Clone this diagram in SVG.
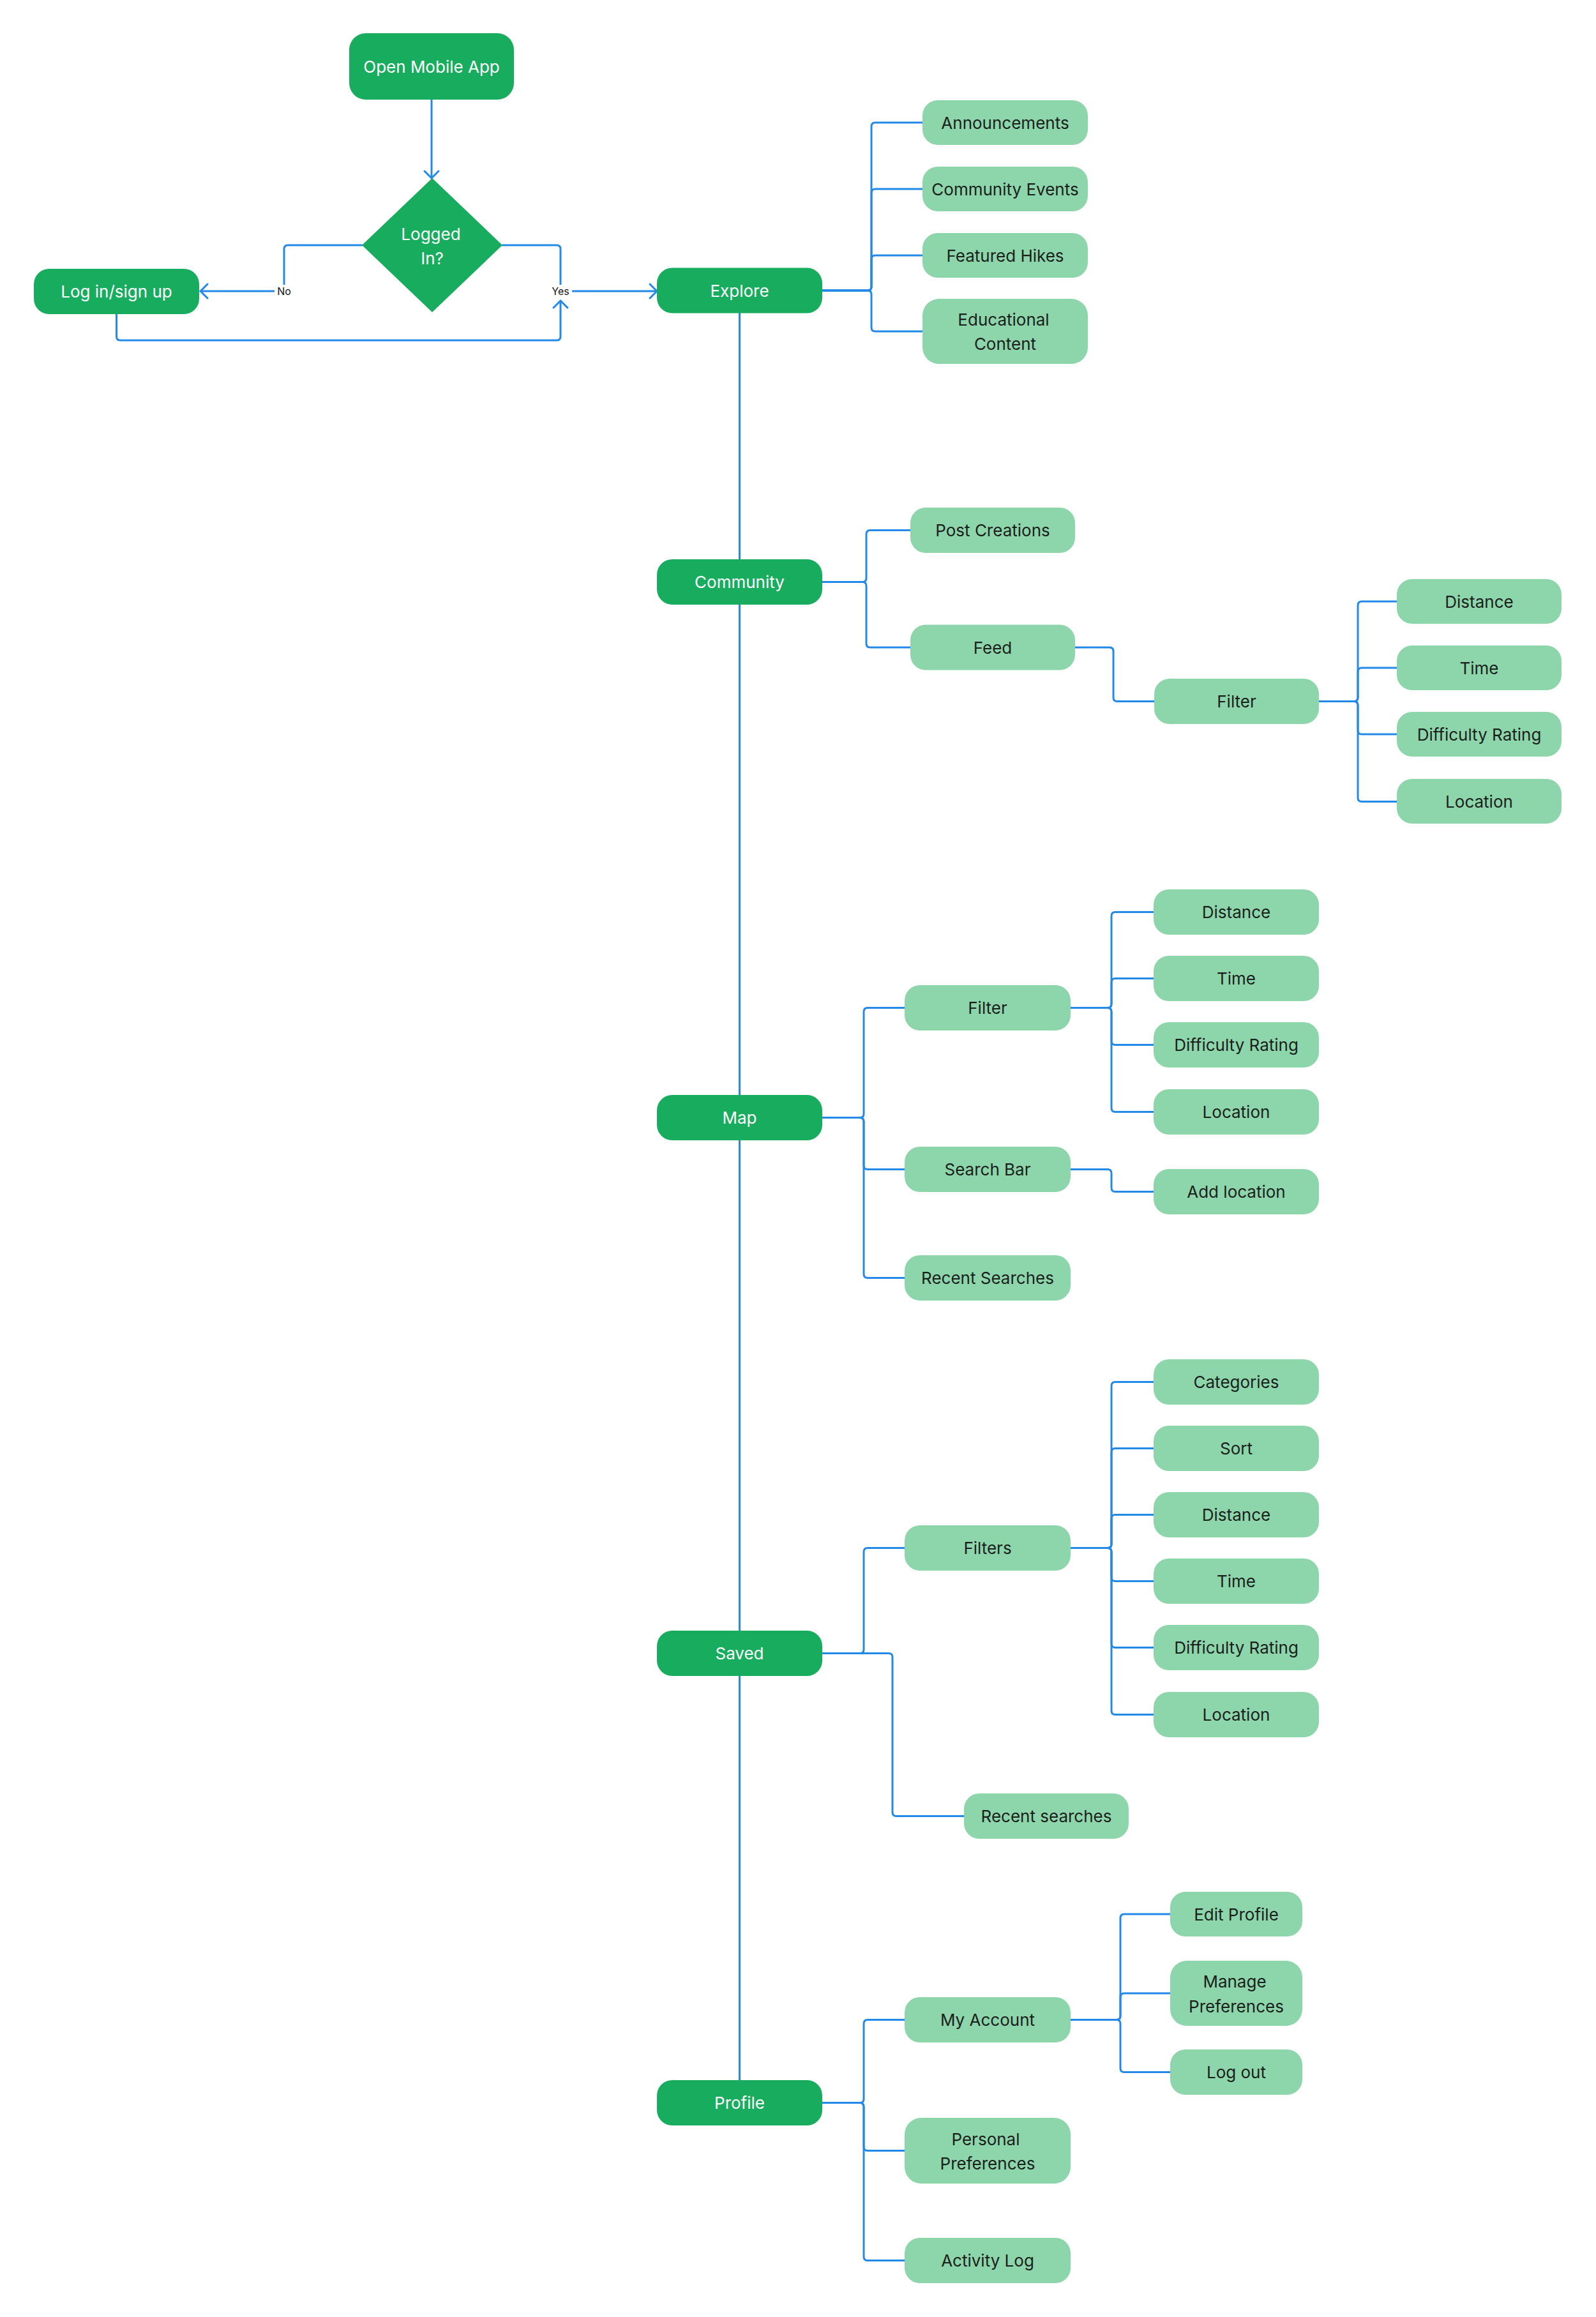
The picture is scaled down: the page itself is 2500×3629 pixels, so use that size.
<svg xmlns="http://www.w3.org/2000/svg" width="2500" height="3629" viewBox="0 0 2500 3629">
<defs>
<style>
.dk{fill:#18AD5E}
.lt{fill:#8DD5AB}
.tw{fill:#FFFFFF;font-family:Inter,"Noto Sans",sans-serif;font-size:26px;font-weight:400;text-anchor:middle;dominant-baseline:central}
.tb{fill:#1B1F1C;font-family:Inter,"Noto Sans",sans-serif;font-size:26px;font-weight:400;text-anchor:middle;dominant-baseline:central}
.lbl{fill:#111111;font-family:Inter,"Noto Sans",sans-serif;font-size:16px;text-anchor:middle;dominant-baseline:central}
.c{fill:none;stroke:#2389E8;stroke-width:3;stroke-linecap:round;stroke-linejoin:round}
</style>
<marker id="arr" markerUnits="userSpaceOnUse" markerWidth="30" markerHeight="30" viewBox="-15 -15 30 30" refX="0" refY="0" orient="auto">
<path d="M -11 -11 L 0 0 L -11 11" fill="none" stroke="#2389E8" stroke-width="3" stroke-linecap="round" stroke-linejoin="round"/>
</marker>
</defs>
<rect width="2500" height="3629" fill="#FFFFFF"/>

<g id="connectors">
<path class="c" d="M 1158.5 490 V 3258"/>
<path class="c" d="M 676 156 V 279" marker-end="url(#arr)"/>
<path class="c" d="M 567 384 H 451 Q 445 384 445 390 V 450 Q 445 456 439 456 H 314" marker-end="url(#arr)"/>
<path class="c" d="M 787 384 H 872 Q 878 384 878 390 V 456 H 1029" marker-end="url(#arr)"/>
<path class="c" d="M 182.5 492 V 527 Q 182.5 533 188.5 533 H 872 Q 878 533 878 527 V 471" marker-end="url(#arr)"/>

<!-- Explore -->
<path class="c" d="M 1288 455 H 1359 Q 1365 455 1365 449 V 198 Q 1365 192 1371 192 H 1445"/>
<path class="c" d="M 1288 455 H 1359 Q 1365 455 1365 449 V 302 Q 1365 296 1371 296 H 1445"/>
<path class="c" d="M 1288 455 H 1359 Q 1365 455 1365 449 V 406 Q 1365 400 1371 400 H 1445"/>
<path class="c" d="M 1288 455 H 1359 Q 1365 455 1365 461 V 513 Q 1365 519 1371 519 H 1445"/>

<!-- Community -->
<path class="c" d="M 1288 911.5 H 1351 Q 1357 911.5 1357 905.5 V 836.5 Q 1357 830.5 1363 830.5 H 1426"/>
<path class="c" d="M 1288 911.5 H 1351 Q 1357 911.5 1357 917.5 V 1008 Q 1357 1014 1363 1014 H 1426"/>
<path class="c" d="M 1684 1014 H 1738 Q 1744 1014 1744 1020 V 1092.5 Q 1744 1098.5 1750 1098.5 H 1808"/>
<path class="c" d="M 2066 1098.5 H 2121 Q 2127 1098.5 2127 1092.5 V 948 Q 2127 942 2133 942 H 2188"/>
<path class="c" d="M 2066 1098.5 H 2121 Q 2127 1098.5 2127 1092.5 V 1052 Q 2127 1046 2133 1046 H 2188"/>
<path class="c" d="M 2066 1098.5 H 2121 Q 2127 1098.5 2127 1104.5 V 1144 Q 2127 1150 2133 1150 H 2188"/>
<path class="c" d="M 2066 1098.5 H 2121 Q 2127 1098.5 2127 1104.5 V 1249.5 Q 2127 1255.5 2133 1255.5 H 2188"/>

<!-- Map -->
<path class="c" d="M 1288 1750.5 H 1347 Q 1353 1750.5 1353 1744.5 V 1584.5 Q 1353 1578.5 1359 1578.5 H 1417"/>
<path class="c" d="M 1288 1750.5 H 1347 Q 1353 1750.5 1353 1756.5 V 1825.5 Q 1353 1831.5 1359 1831.5 H 1417"/>
<path class="c" d="M 1288 1750.5 H 1347 Q 1353 1750.5 1353 1756.5 V 1995.5 Q 1353 2001.5 1359 2001.5 H 1417"/>
<path class="c" d="M 1677 1578.5 H 1735 Q 1741 1578.5 1741 1572.5 V 1434.5 Q 1741 1428.5 1747 1428.5 H 1807"/>
<path class="c" d="M 1677 1578.5 H 1735 Q 1741 1578.5 1741 1572.5 V 1538.5 Q 1741 1532.5 1747 1532.5 H 1807"/>
<path class="c" d="M 1677 1578.5 H 1735 Q 1741 1578.5 1741 1584.5 V 1630.5 Q 1741 1636.5 1747 1636.5 H 1807"/>
<path class="c" d="M 1677 1578.5 H 1735 Q 1741 1578.5 1741 1584.5 V 1735.5 Q 1741 1741.5 1747 1741.5 H 1807"/>
<path class="c" d="M 1677 1831.5 H 1735 Q 1741 1831.5 1741 1837.5 V 1860.5 Q 1741 1866.5 1747 1866.5 H 1807"/>

<!-- Saved -->
<path class="c" d="M 1288 2589.5 H 1347 Q 1353 2589.5 1353 2583.5 V 2430.5 Q 1353 2424.5 1359 2424.5 H 1417"/>
<path class="c" d="M 1288 2589.5 H 1392 Q 1398 2589.5 1398 2595.5 V 2838.5 Q 1398 2844.5 1404 2844.5 H 1510"/>
<path class="c" d="M 1677 2424.5 H 1735 Q 1741 2424.5 1741 2418.5 V 2170.5 Q 1741 2164.5 1747 2164.5 H 1807"/>
<path class="c" d="M 1677 2424.5 H 1735 Q 1741 2424.5 1741 2418.5 V 2274.5 Q 1741 2268.5 1747 2268.5 H 1807"/>
<path class="c" d="M 1677 2424.5 H 1735 Q 1741 2424.5 1741 2418.5 V 2378.5 Q 1741 2372.5 1747 2372.5 H 1807"/>
<path class="c" d="M 1677 2424.5 H 1735 Q 1741 2424.5 1741 2430.5 V 2470.5 Q 1741 2476.5 1747 2476.5 H 1807"/>
<path class="c" d="M 1677 2424.5 H 1735 Q 1741 2424.5 1741 2430.5 V 2574.5 Q 1741 2580.5 1747 2580.5 H 1807"/>
<path class="c" d="M 1677 2424.5 H 1735 Q 1741 2424.5 1741 2430.5 V 2679.5 Q 1741 2685.5 1747 2685.5 H 1807"/>

<!-- Profile -->
<path class="c" d="M 1288 3293.5 H 1347 Q 1353 3293.5 1353 3287.5 V 3169.5 Q 1353 3163.5 1359 3163.5 H 1417"/>
<path class="c" d="M 1288 3293.5 H 1347 Q 1353 3293.5 1353 3299.5 V 3362.5 Q 1353 3368.5 1359 3368.5 H 1417"/>
<path class="c" d="M 1288 3293.5 H 1347 Q 1353 3293.5 1353 3299.5 V 3534.5 Q 1353 3540.5 1359 3540.5 H 1417"/>
<path class="c" d="M 1677 3163.5 H 1749 Q 1755 3163.5 1755 3157.5 V 3004 Q 1755 2998 1761 2998 H 1833"/>
<path class="c" d="M 1677 3163.5 H 1749 Q 1755 3163.5 1755 3157.5 V 3128 Q 1755 3122 1761 3122 H 1833"/>
<path class="c" d="M 1677 3163.5 H 1749 Q 1755 3163.5 1755 3169.5 V 3239.5 Q 1755 3245.5 1761 3245.5 H 1833"/>

<rect x="430" y="446" width="30" height="20" fill="#FFFFFF"/>
<text class="lbl" x="445" y="456">No</text>
<rect x="860" y="446" width="36" height="20" fill="#FFFFFF"/>
<text class="lbl" x="878" y="456">Yes</text>
</g>

<g id="n-open"><rect class="dk" x="547" y="52" width="258" height="104" rx="26"/><text class="tw" x="676" y="104">Open Mobile App</text></g>
<g id="n-logged"><polygon class="dk" points="677,279 787,384 677,489 567,384"/><text class="tw" x="675" y="366">Logged</text><text class="tw" x="677" y="404">In?</text></g>
<g id="n-login"><rect class="dk" x="53" y="421" width="259" height="71" rx="24"/><text class="tw" x="182.5" y="456.5">Log in/sign up</text></g>

<g id="n-explore"><rect class="dk" x="1029" y="419.5" width="259" height="71" rx="24"/><text class="tw" x="1158.5" y="455">Explore</text></g>
<g id="n-announcements"><rect class="lt" x="1445" y="157" width="259" height="70" rx="24"/><text class="tb" x="1574.5" y="192">Announcements</text></g>
<g id="n-community-events"><rect class="lt" x="1445" y="261" width="259" height="70" rx="24"/><text class="tb" x="1574.5" y="296">Community Events</text></g>
<g id="n-featured-hikes"><rect class="lt" x="1445" y="365" width="259" height="70" rx="24"/><text class="tb" x="1574.5" y="400">Featured Hikes</text></g>
<g id="n-educational"><rect class="lt" x="1445" y="468" width="259" height="102" rx="26"/><text class="tb" x="1572" y="500">Educational</text><text class="tb" x="1574.5" y="538">Content</text></g>

<g id="n-community"><rect class="dk" x="1029" y="876" width="259" height="71" rx="24"/><text class="tw" x="1158.5" y="911.5">Community</text></g>
<g id="n-post-creations"><rect class="lt" x="1426" y="795" width="258" height="71" rx="24"/><text class="tb" x="1555" y="830.5">Post Creations</text></g>
<g id="n-feed"><rect class="lt" x="1426" y="978.5" width="258" height="71" rx="24"/><text class="tb" x="1555" y="1014">Feed</text></g>
<g id="n-c-filter"><rect class="lt" x="1808" y="1063" width="258" height="71" rx="24"/><text class="tb" x="1937" y="1098.5">Filter</text></g>
<g id="n-c-distance"><rect class="lt" x="2188" y="907" width="258" height="70" rx="24"/><text class="tb" x="2317" y="942">Distance</text></g>
<g id="n-c-time"><rect class="lt" x="2188" y="1011" width="258" height="70" rx="24"/><text class="tb" x="2317" y="1046">Time</text></g>
<g id="n-c-difficulty"><rect class="lt" x="2188" y="1115" width="258" height="70" rx="24"/><text class="tb" x="2317" y="1150">Difficulty Rating</text></g>
<g id="n-c-location"><rect class="lt" x="2188" y="1220" width="258" height="70" rx="24"/><text class="tb" x="2317" y="1255.5">Location</text></g>

<g id="n-map"><rect class="dk" x="1029" y="1715" width="259" height="71" rx="24"/><text class="tw" x="1158.5" y="1750.5">Map</text></g>
<g id="n-m-filter"><rect class="lt" x="1417" y="1543" width="260" height="71" rx="24"/><text class="tb" x="1547" y="1578.5">Filter</text></g>
<g id="n-search-bar"><rect class="lt" x="1417" y="1796" width="260" height="71" rx="24"/><text class="tb" x="1547" y="1831.5">Search Bar</text></g>
<g id="n-recent-searches"><rect class="lt" x="1417" y="1966" width="260" height="71" rx="24"/><text class="tb" x="1547" y="2001.5">Recent Searches</text></g>
<g id="n-m-distance"><rect class="lt" x="1807" y="1393" width="259" height="71" rx="24"/><text class="tb" x="1936.5" y="1428.5">Distance</text></g>
<g id="n-m-time"><rect class="lt" x="1807" y="1497" width="259" height="71" rx="24"/><text class="tb" x="1936.5" y="1532.5">Time</text></g>
<g id="n-m-difficulty"><rect class="lt" x="1807" y="1601" width="259" height="71" rx="24"/><text class="tb" x="1936.5" y="1636.5">Difficulty Rating</text></g>
<g id="n-m-location"><rect class="lt" x="1807" y="1706" width="259" height="71" rx="24"/><text class="tb" x="1936.5" y="1741.5">Location</text></g>
<g id="n-add-location"><rect class="lt" x="1807" y="1831" width="259" height="71" rx="24"/><text class="tb" x="1936.5" y="1866.5">Add location</text></g>

<g id="n-saved"><rect class="dk" x="1029" y="2554" width="259" height="71" rx="24"/><text class="tw" x="1158.5" y="2589.5">Saved</text></g>
<g id="n-filters"><rect class="lt" x="1417" y="2389" width="260" height="71" rx="24"/><text class="tb" x="1547" y="2424.5">Filters</text></g>
<g id="n-recent-searches-2"><rect class="lt" x="1510" y="2809" width="258" height="71" rx="24"/><text class="tb" x="1639" y="2844.5">Recent searches</text></g>
<g id="n-s-categories"><rect class="lt" x="1807" y="2129" width="259" height="71" rx="24"/><text class="tb" x="1936.5" y="2164.5">Categories</text></g>
<g id="n-s-sort"><rect class="lt" x="1807" y="2233" width="259" height="71" rx="24"/><text class="tb" x="1936.5" y="2268.5">Sort</text></g>
<g id="n-s-distance"><rect class="lt" x="1807" y="2337" width="259" height="71" rx="24"/><text class="tb" x="1936.5" y="2372.5">Distance</text></g>
<g id="n-s-time"><rect class="lt" x="1807" y="2441" width="259" height="71" rx="24"/><text class="tb" x="1936.5" y="2476.5">Time</text></g>
<g id="n-s-difficulty"><rect class="lt" x="1807" y="2545" width="259" height="71" rx="24"/><text class="tb" x="1936.5" y="2580.5">Difficulty Rating</text></g>
<g id="n-s-location"><rect class="lt" x="1807" y="2650" width="259" height="71" rx="24"/><text class="tb" x="1936.5" y="2685.5">Location</text></g>

<g id="n-profile"><rect class="dk" x="1029" y="3258" width="259" height="71" rx="24"/><text class="tw" x="1158.5" y="3293.5">Profile</text></g>
<g id="n-my-account"><rect class="lt" x="1417" y="3128" width="260" height="71" rx="24"/><text class="tb" x="1547" y="3163.5">My Account</text></g>
<g id="n-personal-preferences"><rect class="lt" x="1417" y="3317" width="260" height="103" rx="26"/><text class="tb" x="1544" y="3350">Personal</text><text class="tb" x="1547" y="3388">Preferences</text></g>
<g id="n-activity-log"><rect class="lt" x="1417" y="3505" width="260" height="71" rx="24"/><text class="tb" x="1547" y="3540.5">Activity Log</text></g>
<g id="n-edit-profile"><rect class="lt" x="1833" y="2963" width="207" height="70" rx="24"/><text class="tb" x="1936.5" y="2998">Edit Profile</text></g>
<g id="n-manage-preferences"><rect class="lt" x="1833" y="3071" width="207" height="102" rx="26"/><text class="tb" x="1934" y="3103">Manage</text><text class="tb" x="1936.5" y="3142">Preferences</text></g>
<g id="n-log-out"><rect class="lt" x="1833" y="3210" width="207" height="71" rx="24"/><text class="tb" x="1936.5" y="3245.5">Log out</text></g>
</svg>
